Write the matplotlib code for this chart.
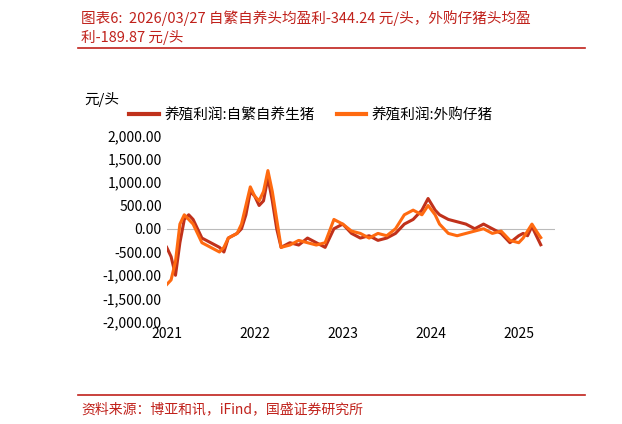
import matplotlib
matplotlib.use("Agg")
import matplotlib.pyplot as plt
import numpy as np

plt.rcParams['font.family'] = ['Noto Sans CJK SC', 'DejaVu Sans']

t1 = [2021.0,2021.05,2021.1,2021.15,2021.2,2021.25,2021.3,2021.35,2021.4,2021.5,2021.6,2021.65,2021.7,2021.8,2021.85,2021.9,2021.95,2022.0,2022.05,2022.1,2022.15,2022.2,2022.25,2022.3,2022.4,2022.5,2022.6,2022.7,2022.8,2022.9,2023.0,2023.1,2023.2,2023.3,2023.4,2023.5,2023.6,2023.7,2023.8,2023.9,2023.97,2024.05,2024.1,2024.2,2024.3,2024.4,2024.5,2024.6,2024.7,2024.8,2024.9,2025.0,2025.05,2025.1,2025.15,2025.2,2025.25]
self_bred = [-400,-600,-1000,-300,200,300,200,0,-200,-300,-400,-500,-200,-100,0,300,800,700,500,600,1100,600,0,-400,-300,-350,-200,-300,-400,0,100,-100,-200,-150,-250,-200,-100,100,200,400,650,400,300,200,150,100,0,100,0,-100,-300,-150,-100,-150,50,-150,-344]
bought = [-1200,-1100,-700,100,300,200,100,-100,-300,-400,-500,-400,-200,-100,100,500,900,700,600,800,1250,800,200,-400,-350,-250,-300,-350,-300,200,100,-50,-100,-200,-100,-150,0,300,400,300,500,300,100,-100,-150,-100,-50,0,-100,-50,-250,-300,-200,-50,100,-50,-190]
yticks = [2000,1500,1000,500,0,-500,-1000,-1500,-2000]
xticks = [2021,2022,2023,2024,2025]

fig = plt.figure(figsize=(6.22,4.24), dpi=100)
ax = fig.add_axes([0.268, 0.241, 0.624, 0.439])
ax.axhline(0, color='#bbbbbb', lw=0.8)
ax.plot(t1, self_bred, color='#C0311B', lw=2.2, label='养殖利润:自繁自养生猪')
ax.plot(t1, bought, color='#FF6A10', lw=2.2, label='养殖利润:外购仔猪')
ax.set_xlim(2021, 2025.41)
ax.set_ylim(-2000, 2000)
ax.set_yticks(yticks)
ax.set_yticklabels([f"{v:,.2f}" for v in yticks], fontsize=10)
ax.set_xticks(xticks)
ax.set_xticklabels([str(x) for x in xticks], fontsize=10)
for s in ax.spines.values():
    s.set_visible(False)
ax.tick_params(length=0)
leg = ax.legend(loc='lower left', bbox_to_anchor=(-0.13, 1.0), ncol=2, frameon=False, fontsize=10.5, handlelength=2.0, columnspacing=1.5, handletextpad=0.4)
for l in leg.get_lines():
    l.set_linewidth(3)
fig.text(0.135, 0.755, '元/头', fontsize=10.5)
fig.text(0.13, 0.945, '图表6:  2026/03/27 自繁自养头均盈利-344.24 元/头，外购仔猪头均盈', color='#C0211B', fontsize=10.5, style='italic')
fig.text(0.13, 0.9, '利-189.87 元/头', color='#C0211B', fontsize=10.5, style='italic')
fig.add_artist(plt.Line2D([0.125,0.94],[0.887,0.887], color='#C0211B', lw=1.2))
fig.add_artist(plt.Line2D([0.125,0.94],[0.068,0.068], color='#C0211B', lw=1.2))
fig.text(0.13, 0.025, '资料来源：博亚和讯，iFind，国盛证券研究所', color='#C0211B', fontsize=10, style='italic')
fig.savefig('out.png', dpi=100)
